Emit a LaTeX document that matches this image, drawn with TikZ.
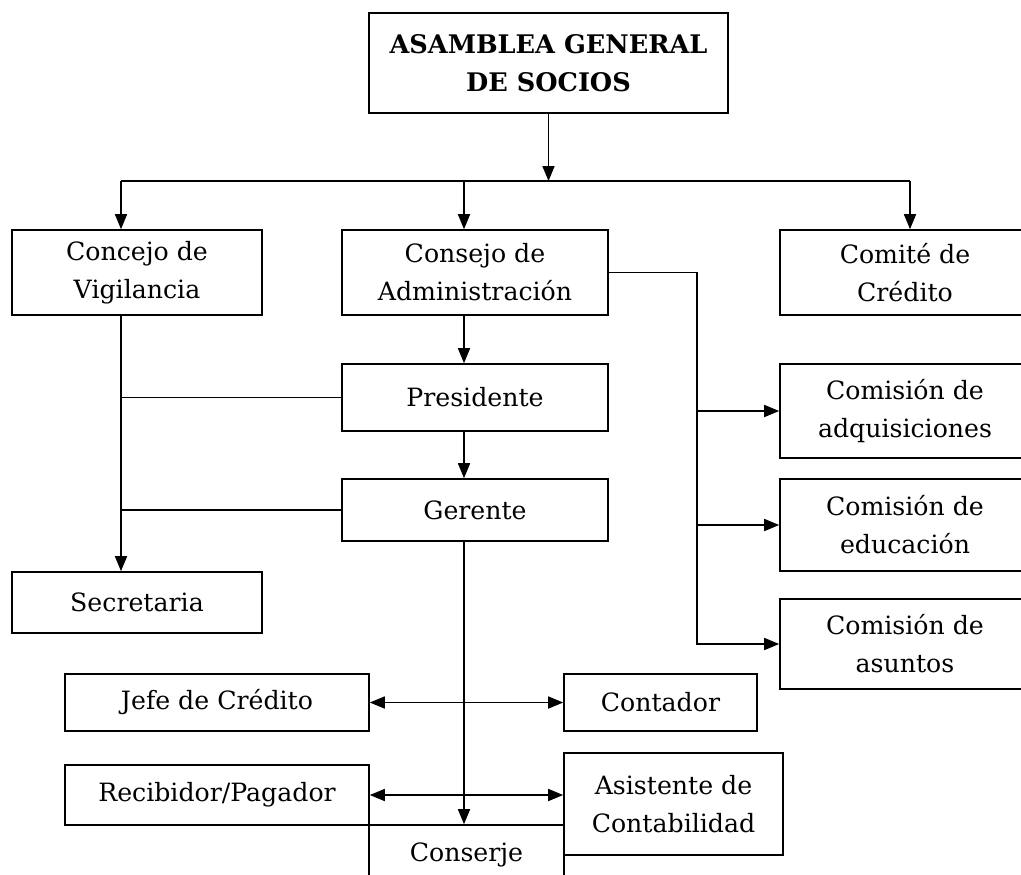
\documentclass[tikz,border=0pt]{standalone}
\usepackage{fontspec}
\setmainfont{DejaVu Serif}
\usetikzlibrary{arrows.meta, positioning, calc}

\begin{document}
\begin{tikzpicture}[
    x=0.5pt, y=-0.5pt,
    box/.style={draw, line width=0.8pt, inner sep=0pt, align=center,
                font=\fontsize{12.6}{19}\selectfont},
    arrow/.style={-{Triangle[length=7.5pt, width=6pt]}, line width=0.8pt},
    dblarrow/.style={{Triangle[length=7.5pt, width=6pt]}-{Triangle[length=7.5pt, width=6pt]}, line width=0.8pt},
    link/.style={line width=0.8pt}
]
\useasboundingbox (0,0) rectangle (1021,874);
\clip (0,0) rectangle (1021,874);

% nodos
\node[box, minimum width=179.5pt, minimum height=50pt, font=\fontsize{12.8}{19}\selectfont\bfseries] (asamblea) at (548.5,63) {ASAMBLEA GENERAL\\ DE SOCIOS};
\node[box, minimum width=125pt, minimum height=42.5pt] (vigilancia) at (137,272.5) {Concejo de\\ Vigilancia};
\node[box, minimum width=133pt, minimum height=42.5pt] (consejo) at (475,272.5) {Consejo de\\ Administración};
\node[box, minimum width=125pt, minimum height=42.5pt] (comite) at (905,272.5) {Comité de\\ Crédito};
\node[box, minimum width=133pt, minimum height=33.5pt] (presidente) at (475,397.5) {Presidente};
\node[box, minimum width=133pt, minimum height=31pt] (gerente) at (475,510) {Gerente};
\node[box, minimum width=125pt, minimum height=30.5pt] (secretaria) at (137,602.5) {Secretaria};
\node[box, minimum width=125pt, minimum height=47pt] (adquisiciones) at (905,411) {Comisión de\\ adquisiciones};
\node[box, minimum width=125pt, minimum height=46pt] (educacion) at (905,525) {Comisión de\\ educación};
\node[box, minimum width=125pt, minimum height=45pt] (asuntos) at (905,644) {Comisión de\\ asuntos};
\node[box, minimum width=152pt, minimum height=28.5pt] (jefe) at (217,702.5) {Jefe de Crédito};
\node[box, minimum width=96.5pt, minimum height=28.5pt] (contador) at (660.5,702.5) {Contador};
\node[box, minimum width=152pt, minimum height=30pt] (recibidor) at (217,795) {Recibidor/Pagador};
\node[box, minimum width=109.5pt, minimum height=51pt] (asistente) at (673.5,804) {Asistente de\\ Contabilidad};
\node[box, minimum width=97.5pt, minimum height=30pt] (conserje) at (466.5,855) {Conserje};

% puntos de paso
\coordinate (busL) at (121,181);
\coordinate (busR) at (910,181);
\coordinate (spine) at (464,181);
\coordinate (rama) at (697,272.5);

% conexiones
\draw[arrow] (asamblea.south) -- (asamblea.south |- busL);
\draw[link] (busL) -- (busR);
\draw[arrow] (busL) -- (busL |- vigilancia.north);
\draw[arrow] (spine) -- (spine |- consejo.north);
\draw[arrow] (busR) -- (busR |- comite.north);
\draw[arrow] (consejo.east) -- (rama) |- (asuntos.west);
\draw[arrow] (rama |- adquisiciones.west) -- (adquisiciones.west);
\draw[arrow] (rama |- educacion.west) -- (educacion.west);
\draw[arrow] (spine |- consejo.south) -- (spine |- presidente.north);
\draw[arrow] (spine |- presidente.south) -- (spine |- gerente.north);
\draw[arrow] (spine |- gerente.south) -- (spine |- conserje.north);
\draw[arrow] (busL |- vigilancia.south) -- (busL |- secretaria.north);
\draw[link] (busL |- presidente.west) -- (presidente.west);
\draw[link] (busL |- gerente.west) -- (gerente.west);
\draw[dblarrow] (jefe.east) -- (contador.west);
\draw[dblarrow] (recibidor.east) -- (asistente.west |- recibidor.east);
\end{tikzpicture}
\end{document}
